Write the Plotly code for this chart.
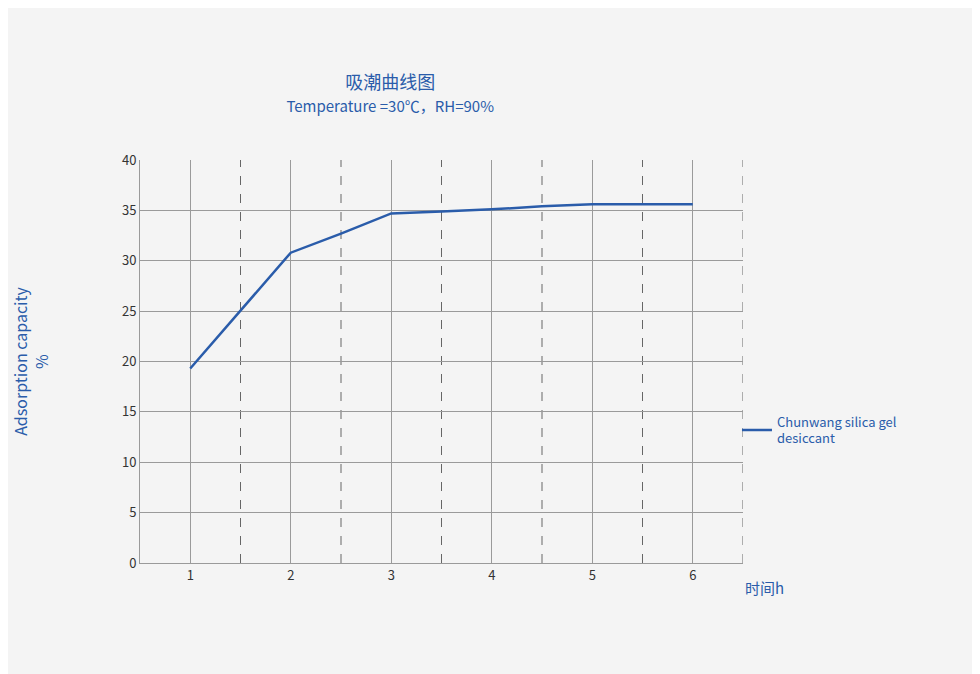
import plotly.graph_objects as go

# data
time_h = [1, 2, 2.5, 3, 3.5, 4, 4.5, 5, 6]
capacity = [19.3, 30.8, 32.7, 34.7, 34.9, 35.1, 35.4, 35.6, 35.6]
x_ticks = [1, 2, 3, 4, 5, 6]
y_ticks = [0, 5, 10, 15, 20, 25, 30, 35, 40]

BLUE = "#2a5caa"
GRID = "#9a9a9a"

fig = go.Figure()
fig.add_trace(go.Scatter(
    x=time_h, y=capacity, mode="lines",
    name="Chunwang silica gel<br>desiccant",
    line=dict(color=BLUE, width=2.5),
))

# solid grid at categories, dashed at category boundaries
for b in [1.5, 2.5, 3.5, 4.5, 5.5, 6.5]:
    fig.add_vline(x=b, line=dict(color="#666", width=1, dash="dash"), layer="below")

fig.update_xaxes(
    range=[0.5, 6.5], tickvals=x_ticks, showgrid=True, gridcolor=GRID,
    zeroline=False, showline=True, linecolor=GRID,
    ticks="", tickfont=dict(size=13, color="#333"),
)
fig.update_yaxes(
    range=[0, 40], tickvals=y_ticks, showgrid=True, gridcolor=GRID,
    zeroline=False, showline=True, linecolor=GRID, ticks="",
    tickfont=dict(size=13, color="#333"),
    title=dict(text="Adsorption capacity<br>%", font=dict(size=16, color=BLUE), standoff=70),
)

fig.add_annotation(
    text="时间h", xref="paper", yref="paper", x=1.0, y=0, xanchor="left", yanchor="top",
    xshift=0, yshift=-12, showarrow=False,
    font=dict(size=15, color=BLUE, family="Noto Sans CJK SC"),
)

fig.update_layout(
    width=980, height=674,
    paper_bgcolor="#f4f4f4", plot_bgcolor="#f4f4f4",
    font=dict(family="Noto Sans CJK SC, Noto Sans"),
    title=dict(
        text="吸潮曲线图<br><span style='font-size:15px'>Temperature =30℃，RH=90%</span>",
        x=0.39, xanchor="center", y=0.88, yanchor="middle",
        font=dict(size=18, color=BLUE),
    ),
    margin=dict(l=132, r=245, t=152, b=119),
    showlegend=True,
    legend=dict(x=0.99, y=0.33, xanchor="left", yanchor="middle",
                font=dict(size=13, color=BLUE), bgcolor="rgba(0,0,0,0)",
                itemwidth=30, tracegroupgap=0),
)

fig.write_html("out.html")
